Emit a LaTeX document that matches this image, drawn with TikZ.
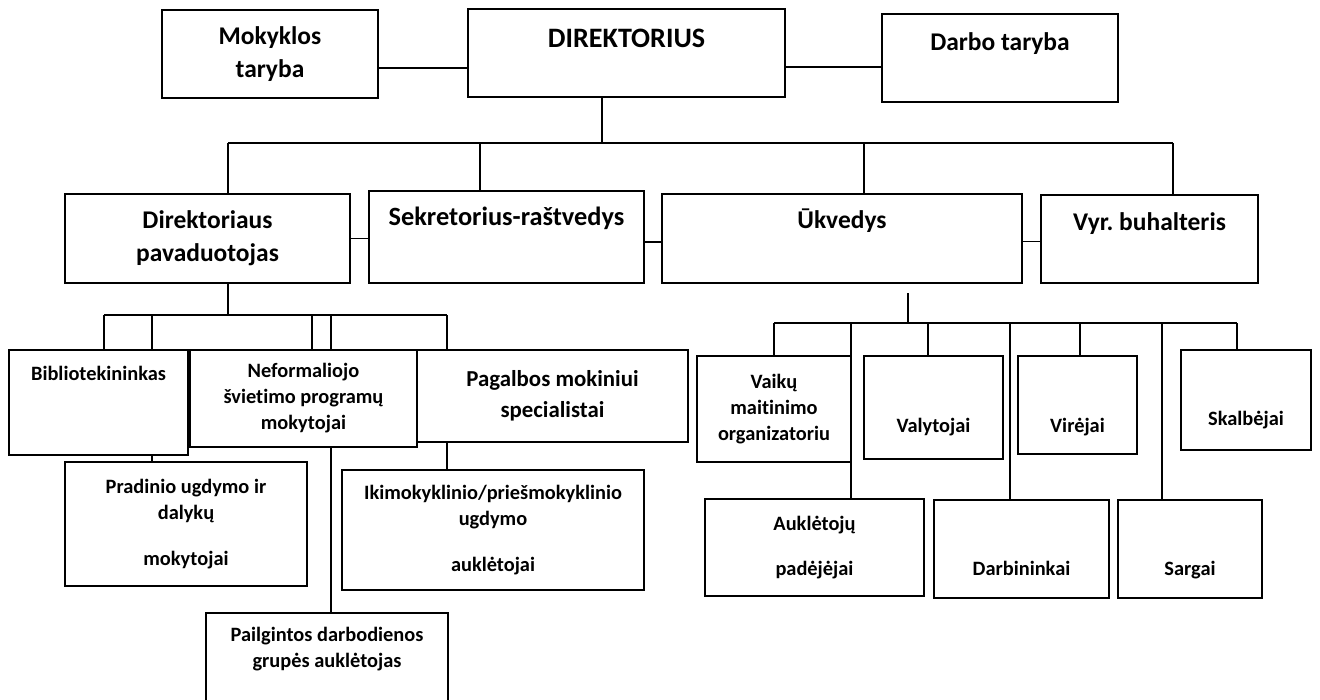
\documentclass[tikz,border=0pt]{standalone}
\usepackage{fontspec}
\setmainfont{Carlito}[Ligatures=NoCommon]
\frenchspacing
\usetikzlibrary{positioning}

\begin{document}
\begin{tikzpicture}[x=0.02cm, y=-0.02cm, line width=1pt,
  box/.style={draw, fill=white, line width=1.2pt, inner sep=0pt, align=center},
  big/.style={font=\fontsize{14.5}{19}\selectfont\bfseries},
  mid/.style={font=\fontsize{13}{17.5}\selectfont\bfseries},
  small/.style={font=\fontsize{11.6}{14.8}\selectfont\bfseries}]
\useasboundingbox (0,0) rectangle (1320,700);
\clip (0,0) rectangle (1320,700);
\fill[white] (0,0) rectangle (1320,700);

% Top row
\node[box, big, minimum width=4.32cm, minimum height=1.76cm] (mok) at (270,54) {Mokyklos\\taryba};
\node[box, font=\fontsize{16}{19}\selectfont\bfseries, minimum width=6.34cm, text height=0.76cm, text depth=1cm] (dir) at (626.5,53) {DIREKTORIUS};
\node[box, big, minimum width=4.72cm, text height=0.72cm, text depth=1.04cm] (dar) at (1000,58) {Darbo taryba};

% Second row
\node[box, big, minimum width=5.7cm, minimum height=1.78cm] (pav) at (207.5,238.5) {Direktoriaus\\pavaduotojas};
\node[box, font=\fontsize{15}{19}\selectfont\bfseries, minimum width=5.5cm, text height=0.68cm, text depth=1.16cm] (sek) at (506.5,237) {Sekretorius-raštvedys};
\node[box, big, minimum width=7.2cm, text height=0.68cm, text depth=1.1cm] (ukv) at (842,238.5) {Ūkvedys};
\node[box, big, minimum width=4.34cm, text height=0.7cm, text depth=1.06cm] (vyr) at (1149.5,239) {Vyr. buhalteris};

% Under the deputy
\node[box, small, minimum width=3.58cm, text height=0.6cm, text depth=1.5cm] (bib) at (98.5,402.5) {Bibliotekininkas};
\node[box, small, minimum width=4.54cm, minimum height=1.94cm] (nef) at (303.5,398.5) {Neformaliojo\\švietimo programų\\mokytojai};
\node[box, mid, minimum width=5.42cm, minimum height=1.84cm] (pag) at (552.5,396) {Pagalbos mokiniui\\specialistai};
\node[box, small, minimum width=4.84cm, minimum height=2.48cm] (pra) at (186,524) {Pradinio ugdymo ir\\dalykų\\[11pt]mokytojai};
\node[box, small, minimum width=6.04cm, minimum height=2.4cm] (iki) at (493,530) {Ikimokyklinio/priešmokyklinio\\ugdymo\\[11pt]auklėtojai};
\node[box, small, minimum width=4.84cm, minimum height=2.04cm] (pai) at (327,664) {Pailgintos darbodienos\\grupės auklėtojas\\\strut};

% Under the housekeeper
\node[box, small, minimum width=3.08cm, minimum height=2.12cm] (vai) at (774,409) {Vaikų\\maitinimo\\organizatoriu};
\node[box, small, minimum width=2.78cm, text height=1.54cm, text depth=0.52cm] (val) at (933.5,407.5) {Valytojai};
\node[box, small, minimum width=2.38cm, text height=1.54cm, text depth=0.42cm] (vir) at (1077.5,405) {Virėjai};
\node[box, small, minimum width=2.6cm, text height=1.52cm, text depth=0.48cm] (ska) at (1246,400) {Skalbėjai};
\node[box, small, minimum width=4.38cm, minimum height=1.94cm] (auk) at (814.5,547.5) {Auklėtojų\\[11pt]padėjėjai};
\node[box, small, minimum width=3.5cm, text height=1.52cm, text depth=0.44cm] (dbn) at (1021.5,549) {Darbininkai};
\node[box, small, minimum width=2.88cm, text height=1.52cm, text depth=0.44cm] (sar) at (1190,549) {Sargai};

% Links beside the director
\draw ([yshift=-0.28cm]mok.east) -- ([yshift=-0.28cm]mok.east -| dir.west);
\draw ([yshift=-0.28cm]dir.east) -- ([yshift=-0.28cm]dir.east -| dar.west);

% Director to second row
\coordinate (hub) at (602,143);
\coordinate (jPav) at (228,143);
\coordinate (jSek) at (480,143);
\coordinate (jUkv) at (864,143);
\coordinate (jVyr) at (1173,143);
\draw (dir.south -| hub) -- (hub);
\draw (jPav) -- (jVyr);
\foreach \j/\n in {jPav/pav, jSek/sek, jUkv/ukv, jVyr/vyr}
  \draw (\j) -- (\j |- \n.north);

% Second row side links
\draw (pav.east) -- (pav.east -| sek.west);
\draw ([yshift=-0.1cm]sek.east) -- ([yshift=-0.1cm]sek.east -| ukv.west);
\draw ([yshift=-0.06cm]ukv.east) -- ([yshift=-0.06cm]ukv.east -| vyr.west);

% Deputy tree
\coordinate (hPav) at (228,315);
\coordinate (kBib) at (104,315);
\coordinate (kPra) at (152,315);
\coordinate (kNef) at (312,315);
\coordinate (kPai) at (331,315);
\coordinate (kPag) at (447,315);
\draw (pav.south -| hPav) -- (hPav);
\draw (kBib) -- (kPag);
\draw (kBib) -- (kBib |- bib.north);
\draw (kPra) -- (kPra |- bib.north);
\draw (kPra |- bib.south) -- (kPra |- pra.north);
\draw (kNef) -- (kNef |- nef.north);
\draw (kPai) -- (kPai |- nef.north);
\draw (kPai |- nef.south) -- (kPai |- pai.north);
\draw (kPag) -- (kPag |- pag.north);
\draw (kPag |- pag.south) -- (kPag |- iki.north);

% Housekeeper tree
\coordinate (hUkv) at (908,323);
\draw (hUkv) -- ++(0,-30);
\coordinate (mVai) at (774,323);
\coordinate (mAuk) at (851,323);
\coordinate (mVal) at (928,323);
\coordinate (mDbn) at (1010,323);
\coordinate (mVir) at (1080,323);
\coordinate (mSar) at (1162,323);
\coordinate (mSka) at (1237,323);
\draw (mVai) -- (mSka);
\foreach \m/\n in {mVai/vai, mAuk/auk, mVal/val, mDbn/dbn, mVir/vir, mSar/sar, mSka/ska}
  \draw (\m) -- (\m |- \n.north);
\end{tikzpicture}
\end{document}
